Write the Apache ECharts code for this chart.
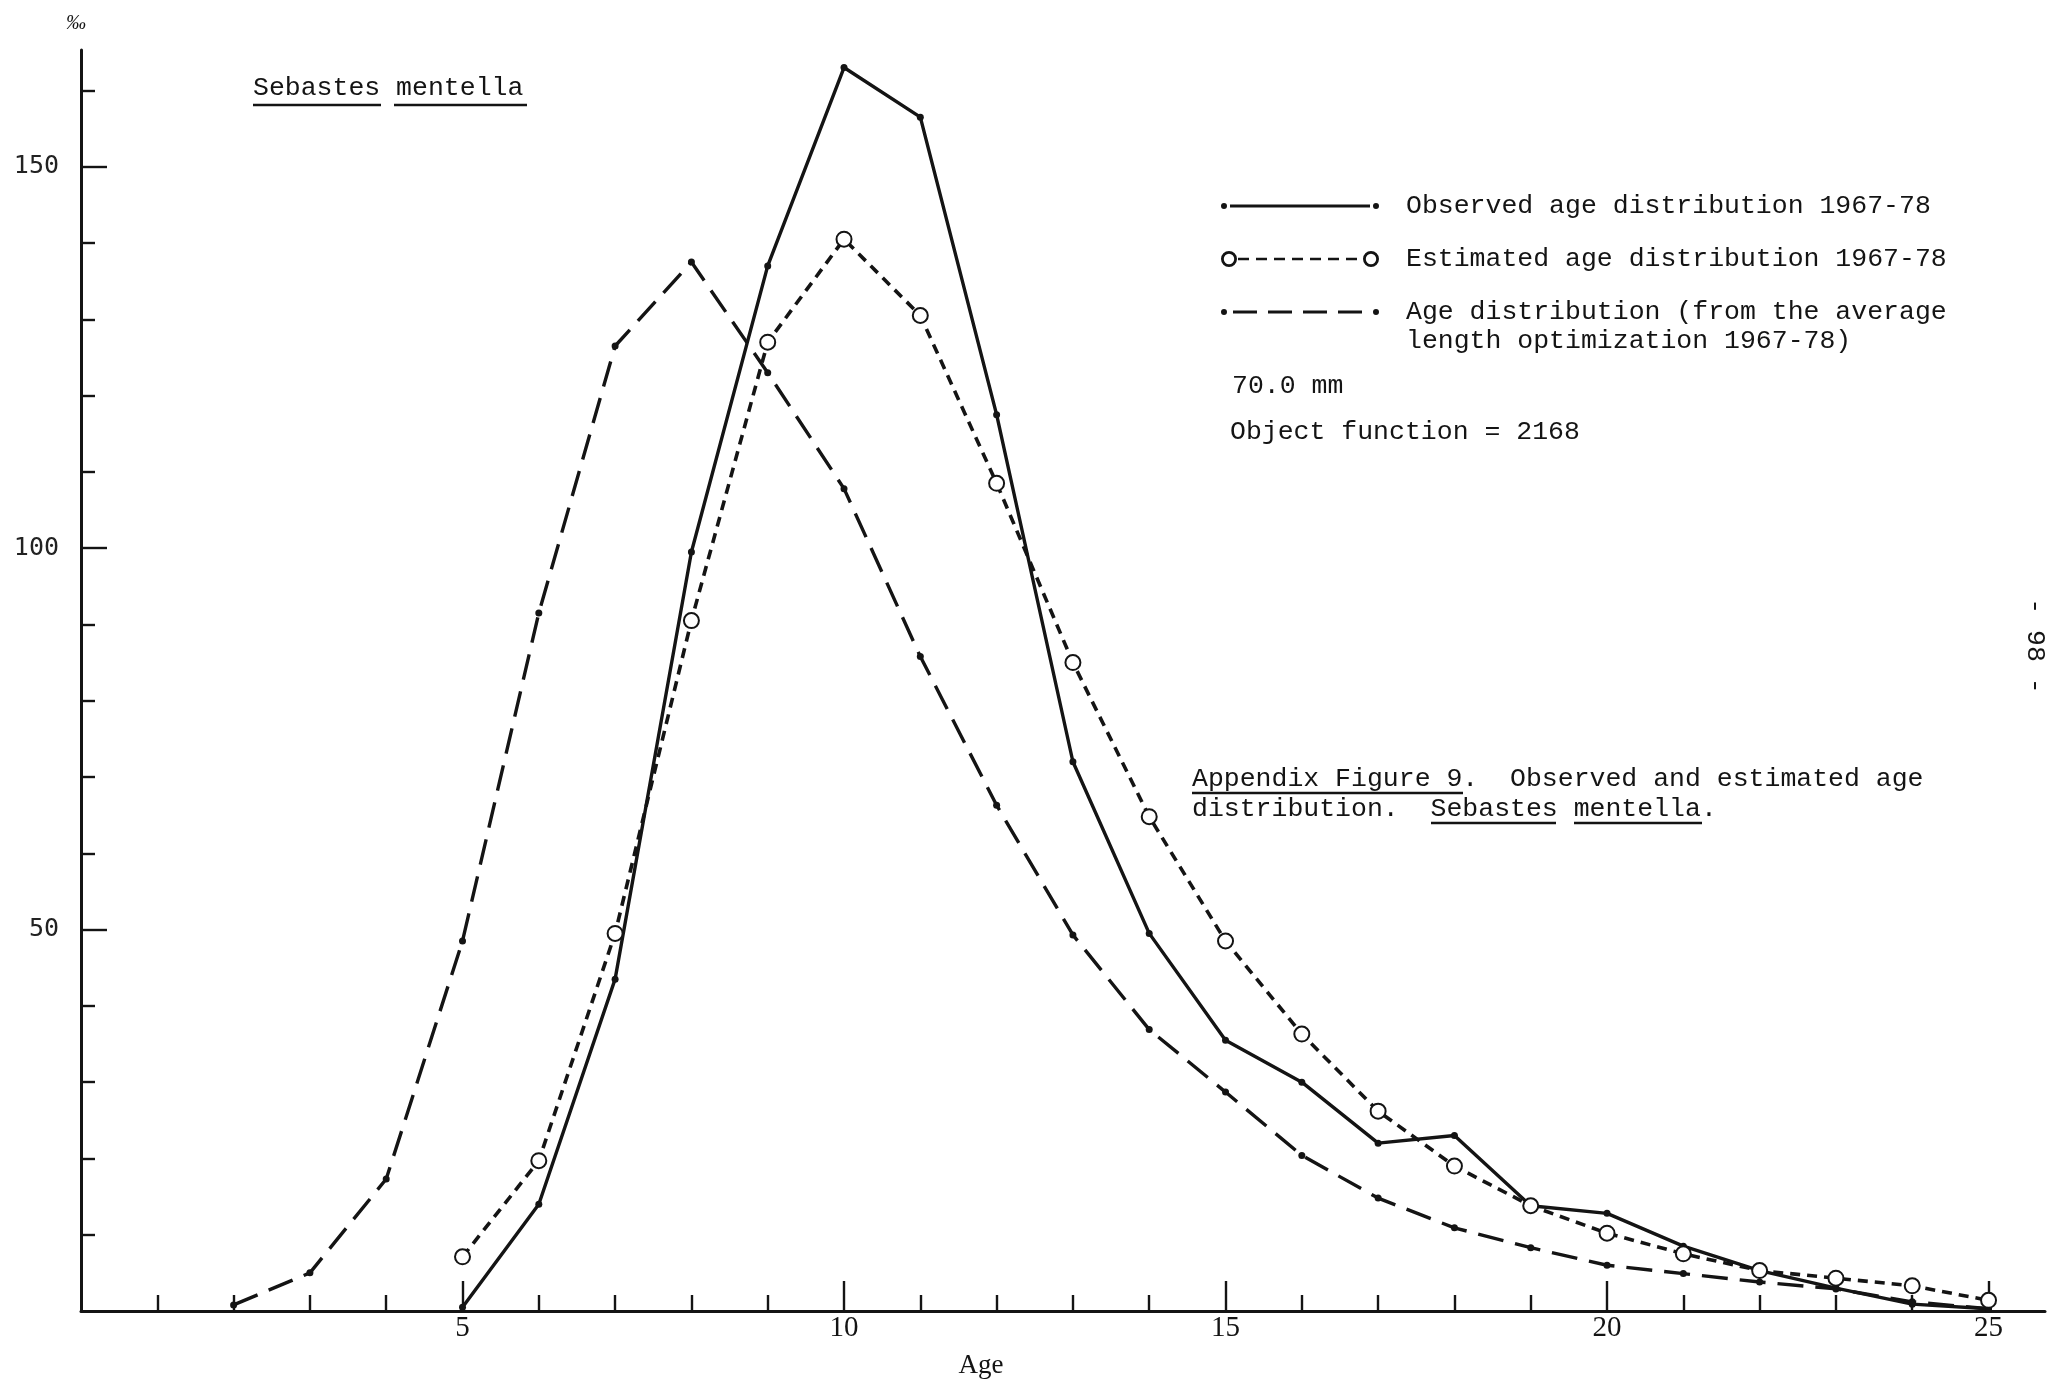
<!DOCTYPE html>
<html><head><meta charset="utf-8">
<script src="https://cdn.jsdelivr.net/npm/echarts@6/dist/echarts.min.js"></script>
<style>html,body{margin:0;padding:0;background:#fff}#c{width:2059px;height:1382px}</style>
</head><body><div id="c"></div>
<script>
// ---- data ----
const observedAges   = [5,6,7,8,9,10,11,12,13,14,15,16,17,18,19,20,21,22,23,24,25];
const observedValues = [0.5,14,43.5,99.5,137,163,156.5,117.5,72,49.5,35.5,30,22,23,13.8,12.8,8.5,5.3,3.0,0.9,0.3];
const estimatedAges   = [5,6,7,8,9,10,11,12,13,14,15,16,17,18,19,20,21,22,23,24,25];
const estimatedValues = [7.1,19.7,49.5,90.5,127,140.5,130.5,108.5,85,64.8,48.5,36.3,26.2,19,13.8,10.2,7.5,5.3,4.3,3.3,1.4];
const ageDistAges   = [2,3,4,5,6,7,8,9,10,11,12,13,14,15,16,17,18,19,20,21,22,23,24,25];
const ageDistValues = [0.8,5,17.3,48.5,91.5,126.5,137.5,123,107.8,85.8,66.3,49.3,36.9,28.7,20.4,14.8,10.9,8.3,6.0,4.9,3.8,2.9,1.2,0.3];
const xMinorTicks = [1,2,3,4,6,7,8,9,11,12,13,14,16,17,18,19,21,22,23,24];
const xMajorTicks = [5,10,15,20,25];
const yMinorTicks = [10,20,30,40,60,70,80,90,110,120,130,140,160];
const yMajorTicks = [50,100,150];
const seriesNames = [
  'Observed age distribution 1967-78',
  'Estimated age distribution 1967-78',
  'Age distribution (from the average length optimization 1967-78)'
];
const legendFirstLines = [
  'Observed age distribution 1967-78',
  'Estimated age distribution 1967-78',
  'Age distribution (from the average'
];

const pairs = (xs, ys) => xs.map((x, i) => [x, ys[i]]);
const INK = '#141414';
const MONO = '"Liberation Mono", "DejaVu Sans Mono", monospace';
const FS = 26.5;

const iconObs = 'path://M0,8a3,3 0 1,0 6,0a3,3 0 1,0 -6,0zM9,6.6h140v2.8h-140zM152,8a3,3 0 1,0 6,0a3,3 0 1,0 -6,0zM0,0h0.01v0.01h-0.01zM0,16h0.01v-0.01h-0.01z';
let estDashes = '';
for (let i = 0; i < 7; i++) { const x0 = 17 + i * 18; estDashes += 'M' + x0 + ',6.7h11v2.6h-11z'; }
const iconEst = 'path://M0,8a8,8 0 1,0 16,0a8,8 0 1,0 -16,0zM2.8,8a5.2,5.2 0 1,1 10.4,0a5.2,5.2 0 1,1 -10.4,0z'
  + estDashes
  + 'M142,8a8,8 0 1,0 16,0a8,8 0 1,0 -16,0zM144.8,8a5.2,5.2 0 1,1 10.4,0a5.2,5.2 0 1,1 -10.4,0z';
const iconAge = 'path://M0,8a3,3 0 1,0 6,0a3,3 0 1,0 -6,0zM12,6.6h24v2.8h-24zM47,6.6h24v2.8h-24zM82,6.6h24v2.8h-24zM117,6.6h24v2.8h-24zM152,8a3,3 0 1,0 6,0a3,3 0 1,0 -6,0zM0,0h0.01v0.01h-0.01zM0,16h0.01v-0.01h-0.01z';
const icons = [iconObs, iconEst, iconAge];

const X_MAX = 25.74, Y_MAX = 165.3;
const chart = echarts.init(document.getElementById('c'), null, {renderer: 'canvas'});

const underline = (x1, x2, y) => ({type: 'line', shape: {x1, y1: y, x2, y2: y}, style: {stroke: INK, lineWidth: 2.4}});
const txt = (text, x, y, extra) => ({type: 'text', x, y, style: Object.assign({text, font: FS + 'px ' + MONO, fill: INK, verticalAlign: 'middle', align: 'left'}, extra || {})});

chart.setOption({
  backgroundColor: '#fff',
  animation: false,
  grid: {left: 81, right: 14, top: 50, bottom: 71, containLabel: false},
  xAxis: [
    {type: 'value', min: 0, max: X_MAX, gridIndex: 0, position: 'bottom',
     axisLine: {show: true, lineStyle: {color: INK, width: 3}},
     axisTick: {show: true, inside: true, length: 16, customValues: xMinorTicks, lineStyle: {color: INK, width: 2.4}},
     axisLabel: {show: false}, splitLine: {show: false}},
    {type: 'value', min: 0, max: X_MAX, gridIndex: 0, position: 'bottom',
     axisLine: {show: false},
     axisTick: {show: true, inside: true, length: 30, customValues: xMajorTicks, lineStyle: {color: INK, width: 2.4}},
     axisLabel: {show: true, customValues: xMajorTicks, margin: 3, color: INK,
                 fontFamily: '"Liberation Serif", serif', fontSize: 29},
     splitLine: {show: false}}
  ],
  yAxis: [
    {type: 'value', min: 0, max: Y_MAX, position: 'left',
     axisLine: {show: true, lineStyle: {color: INK, width: 3}},
     axisTick: {show: true, inside: true, length: 14, customValues: yMinorTicks, lineStyle: {color: INK, width: 2.4}},
     axisLabel: {show: false}, splitLine: {show: false}},
    {type: 'value', min: 0, max: Y_MAX, position: 'left',
     axisLine: {show: false},
     axisTick: {show: true, inside: true, length: 26, customValues: yMajorTicks, lineStyle: {color: INK, width: 2.4}},
     axisLabel: {show: true, customValues: yMajorTicks, margin: 22, color: '#222',
                 fontFamily: '"DejaVu Sans Mono", monospace', fontSize: 25},
     splitLine: {show: false}}
  ],
  legend: {
    orient: 'vertical', left: 1221, top: 191, padding: 0,
    itemWidth: 158, itemHeight: 16, itemGap: 23, selectedMode: false,
    formatter: (name) => legendFirstLines[seriesNames.indexOf(name)],
    textStyle: {fontFamily: MONO, fontSize: FS, color: INK, lineHeight: 30, padding: [0, 0, 0, 22]},
    data: seriesNames.map((n, i) => ({name: n, icon: icons[i], itemStyle: {color: INK, borderWidth: 0}}))
  },
  series: [
    {name: seriesNames[0], type: 'line', data: pairs(observedAges, observedValues),
     symbol: 'circle', symbolSize: 7, z: 3,
     lineStyle: {color: INK, width: 3.4, type: 'solid'},
     itemStyle: {color: INK}},
    {name: seriesNames[1], type: 'line', data: pairs(estimatedAges, estimatedValues),
     symbol: 'emptyCircle', symbolSize: 15, z: 4,
     lineStyle: {color: INK, width: 3.6, type: [10, 7]},
     itemStyle: {color: INK, borderColor: INK, borderWidth: 3}},
    {name: seriesNames[2], type: 'line', data: pairs(ageDistAges, ageDistValues),
     symbol: 'circle', symbolSize: 7, z: 2,
     lineStyle: {color: INK, width: 3.4, type: [26, 12]},
     itemStyle: {color: INK}}
  ],
  graphic: [
    // title
    txt('Sebastes mentella', 253, 88),
    underline(253, 381, 105), underline(394, 527, 105),
    // legend continuation and notes
    txt('length optimization 1967-78)', 1406, 341),
    txt('70.0 mm', 1232, 386),
    txt('Object function = 2168', 1230, 432),
    // caption
    txt('Appendix Figure 9.  Observed and estimated age', 1192, 779),
    txt('distribution.  Sebastes mentella.', 1192, 809),
    underline(1192, 1463, 793), underline(1431, 1556, 823), underline(1574, 1702, 823),
    // axis name / unit
    {type: 'text', x: 981, y: 1366, style: {text: 'Age', font: '27px "Liberation Serif", serif', fill: INK, align: 'center', verticalAlign: 'middle'}},
    {type: 'text', x: 76, y: 24, style: {text: '‰', font: 'italic 20px "Liberation Serif", serif', fill: INK, align: 'center', verticalAlign: 'middle'}},
    // page number, rotated clockwise
    {type: 'text', x: 2035, y: 646, rotation: -Math.PI / 2,
     style: {text: '- 98 -', font: FS + 'px ' + MONO, fill: INK, align: 'center', verticalAlign: 'middle'}}
  ]
});
</script></body></html>
